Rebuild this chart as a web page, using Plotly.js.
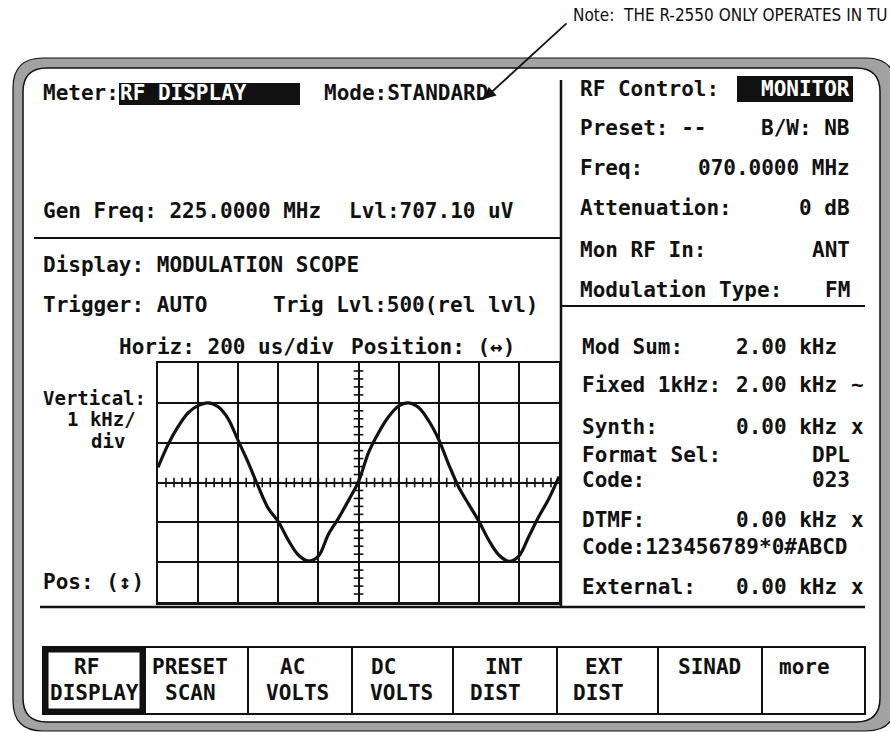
<!DOCTYPE html>
<html><head><meta charset="utf-8">
<script src="https://cdn.plot.ly/plotly-3.0.1.min.js"></script>
<style>html,body{margin:0;padding:0;background:#fff;}#chart{width:890px;height:732px;}</style>
</head><body><div id="chart"></div>
<script>
// ---------- data ----------
const timeUs = [0,50,100,150,200,250,300,350,400,450,500,550,600,650,700,750,800,850,900,950,1000,
                1050,1100,1150,1200,1250,1300,1350,1400,1450,1500,1550,1600,1650,1700,1750,1800,1850,1900,1950,2000];
const deviationKHz = [0.38,0.95,1.40,1.75,1.93,2.00,1.90,1.60,1.05,0.50,-0.10,-0.65,-0.98,-1.45,-1.82,-1.97,-1.85,-1.30,-0.90,-0.45,0.02,
                      0.75,1.25,1.65,1.92,2.00,1.88,1.55,1.08,0.45,-0.12,-0.55,-0.97,-1.45,-1.82,-1.98,-1.85,-1.35,-0.85,-0.40,0.15];
const horizUsPerDiv = 200;
const vertKHzPerDiv = 1;
const scopeRangeUs = [0, 2000];
const scopeRangeKHz = [-3, 3];

const rfLabels = ['RF Control:','Preset: --','Freq:','Attenuation:','Mon RF In:','Modulation Type:'];
const rfValues = ['MONITOR','B/W: NB','070.0000 MHz','0 dB','ANT','FM'];
const modLabels = ['Mod Sum:','Fixed 1kHz:','Synth:','Format Sel:','Code:','DTMF:','Code:123456789*0#ABCD','External:'];
const modValues = ['2.00 kHz','2.00 kHz','0.00 kHz','DPL','023','0.00 kHz','','0.00 kHz'];
const modFlags  = ['','~','x','','','x','','x'];
const buttonLine1 = ['RF','PRESET','AC','DC','INT','EXT','SINAD','more'];
const buttonLine2 = ['DISPLAY','SCAN','VOLTS','VOLTS','DIST','DIST','',''];
const noteText = 'Note:  THE R-2550 ONLY OPERATES IN TU';

// ---------- layout helpers ----------
const W = 890, H = 732;
const MONO = 'DejaVu Sans Mono, Liberation Mono, monospace';
const INK = '#111111';
const px = x => x / W, py = y => 1 - y / H;
const nb = s => s.replace(/ /g, '\u00a0');

const annotations = [];
function T(x, y, s, o) {
  o = o || {};
  annotations.push({xref:'paper', yref:'paper', x:px(x), y:py(y), text:nb(s), showarrow:false,
    xanchor:o.anchor || 'left', yanchor:'middle', borderpad:0,
    font:{family:o.family || MONO, size:o.size || 21, color:o.color || INK, weight:o.weight || 700}});
}
const shapes = [];
function rect(x0, y0, x1, y1, o) {
  o = o || {};
  shapes.push({type:'rect', xref:'paper', yref:'paper', x0:px(x0), x1:px(x1), y0:py(y0), y1:py(y1),
    fillcolor:o.fill || 'rgba(0,0,0,0)', line:{color:o.lc || INK, width:o.lw === undefined ? 2 : o.lw}, layer:o.layer || 'below'});
}
function line(x0, y0, x1, y1, w) {
  shapes.push({type:'line', xref:'paper', yref:'paper', x0:px(x0), x1:px(x1), y0:py(y0), y1:py(y1),
    line:{color:INK, width:w || 2}, layer:'below'});
}
function rrect(x0, y0, x1, y1, r, fill, lw) {
  const P = (x, y) => px(x).toFixed(5) + ',' + py(y).toFixed(5);
  const d = 'M' + P(x0 + r, y0) + ' L' + P(x1 - r, y0) + ' Q' + P(x1, y0) + ' ' + P(x1, y0 + r) +
            ' L' + P(x1, y1 - r) + ' Q' + P(x1, y1) + ' ' + P(x1 - r, y1) +
            ' L' + P(x0 + r, y1) + ' Q' + P(x0, y1) + ' ' + P(x0, y1 - r) +
            ' L' + P(x0, y0 + r) + ' Q' + P(x0, y0) + ' ' + P(x0 + r, y0) + ' Z';
  shapes.push({type:'path', xref:'paper', yref:'paper', path:d, fillcolor:fill, line:{color:INK, width:lw}, layer:'below'});
}

// ---------- frame ----------
rrect(13, 58, 896, 731, 30, '#a2a2a2', 1.2);
rrect(23, 68, 880, 722, 24, '#ffffff', 1.5);

// ---------- panel lines ----------
line(561, 80, 561, 607, 2.5);
line(34, 238, 561, 238, 2);
line(561, 306, 865, 306, 2);
line(40, 607, 865, 607, 2.5);

// ---------- top-left ----------
T(42, 93, 'Meter:');
rect(119, 83, 300, 105, {fill:INK, lw:0});
T(119, 93, 'RF DISPLAY', {color:'#ffffff'});
T(323, 93, 'Mode:STANDARD');
T(42, 211, 'Gen Freq: 225.0000 MHz');
T(348, 211, 'Lvl:707.10 uV');
T(42, 265, 'Display: MODULATION SCOPE');
T(42, 305, 'Trigger: AUTO');
T(272, 305, 'Trig Lvl:500(rel lvl)');
T(118, 347, 'Horiz: ' + horizUsPerDiv + ' us/div');
T(350, 347, 'Position: (\u2194)');
T(42, 398, 'Vertical:', {size:19});
T(66, 419, vertKHzPerDiv + ' kHz/', {size:19});
T(90, 441, 'div', {size:19});
T(42, 582, 'Pos: (\u2195)');

// ---------- right panel ----------
const rfRowY = [89, 128, 168, 208, 250, 290];
rect(737, 76, 853, 102, {fill:INK, lw:0});
rfLabels.forEach((s, i) => {
  T(579, rfRowY[i], s);
  T(851, rfRowY[i], rfValues[i], {anchor:'right', color: i === 0 ? '#ffffff' : INK});
});
const modRowY = [347, 385, 427, 455, 480, 520, 547, 587];
modLabels.forEach((s, i) => {
  T(581, modRowY[i], s);
  if (modValues[i]) {
    const isKHz = modValues[i].indexOf('kHz') >= 0;
    T(isKHz ? 838 : 851, modRowY[i], modValues[i], {anchor:'right'});
  }
  if (modFlags[i]) T(850, modRowY[i], modFlags[i]);
});

// ---------- soft keys ----------
const btnEdges = [43, 145, 248, 352, 453, 557, 658, 762, 865];
const l1c = [86, 190, 292, 383, 504, 604, 709, 804];
const l2c = [94, 190, 297, 401, 496, 598, 0, 0];
for (let i = 0; i < buttonLine1.length; i++) {
  rect(btnEdges[i], 647, btnEdges[i + 1], 714, {lw:2});
  T(l1c[i], 667, buttonLine1[i], {anchor:'center'});
  if (buttonLine2[i]) T(l2c[i], 693, buttonLine2[i], {anchor:'center'});
}
rect(46, 650, 142, 711, {lw:5, layer:'above'});

// ---------- note + arrow ----------
T(572, 15, noteText, {family:'Liberation Sans Narrow, DejaVu Sans Condensed, Arial Narrow, sans-serif', size:17, weight:400});
annotations.push({xref:'paper', yref:'paper', x:px(484), y:py(99), text:'', showarrow:true,
  axref:'pixel', ayref:'pixel', ax:84, ay:-77, arrowhead:2, arrowsize:1.3, arrowwidth:1.8, arrowcolor:INK, standoff:0});

// ---------- scope centre tick marks ----------
const tickStepX = horizUsPerDiv / 5, tickStepY = vertKHzPerDiv / 5;
const midX = (scopeRangeUs[0] + scopeRangeUs[1]) / 2, midY = (scopeRangeKHz[0] + scopeRangeKHz[1]) / 2;
for (let t = scopeRangeUs[0] + tickStepX; t < scopeRangeUs[1] - 1e-6; t += tickStepX) {
  shapes.push({type:'line', xref:'x', yref:'y', x0:t, x1:t, y0:midY - 0.12, y1:midY + 0.12, line:{color:INK, width:1.6}});
}
for (let v = scopeRangeKHz[0] + tickStepY; v < scopeRangeKHz[1] - 1e-6; v += tickStepY) {
  shapes.push({type:'line', xref:'x', yref:'y', x0:midX - 24, x1:midX + 24, y0:v, y1:v, line:{color:INK, width:1.6}});
}

const trace = {x:timeUs, y:deviationKHz, type:'scatter', mode:'lines',
  line:{color:INK, width:3.2, shape:'spline', smoothing:0.9}, hoverinfo:'skip'};

const axBase = {showgrid:true, gridcolor:INK, gridwidth:2, showline:true, mirror:true, linecolor:INK, linewidth:2.5,
  zeroline:false, showticklabels:false, ticks:'', fixedrange:true};
const layout = {
  width:W, height:H, margin:{l:0, r:0, t:0, b:0},
  paper_bgcolor:'#ffffff', plot_bgcolor:'rgba(0,0,0,0)', showlegend:false,
  xaxis:Object.assign({}, axBase, {domain:[px(158), px(559)], range:scopeRangeUs, dtick:horizUsPerDiv, tick0:0}),
  yaxis:Object.assign({}, axBase, {domain:[py(602), py(363)], range:scopeRangeKHz, dtick:vertKHzPerDiv, tick0:0}),
  shapes:shapes, annotations:annotations
};
Plotly.newPlot('chart', [trace], layout, {staticPlot:true, displayModeBar:false});
</script></body></html>
